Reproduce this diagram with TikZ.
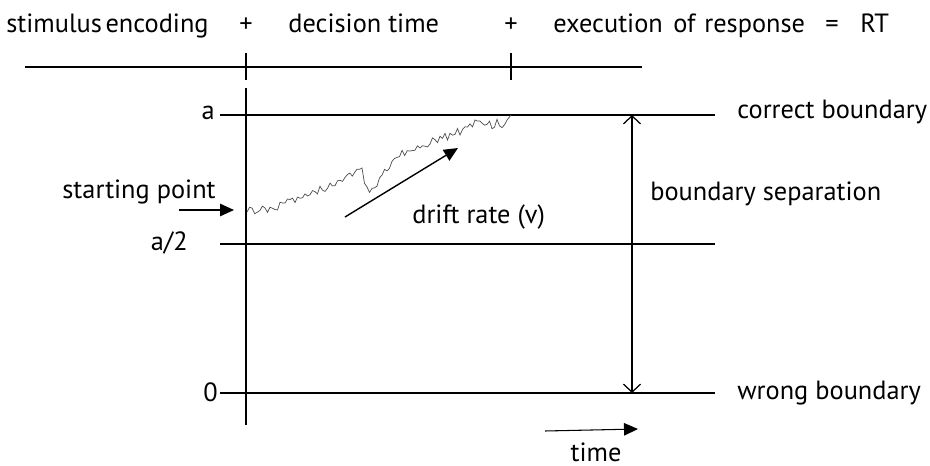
\documentclass[tikz,border=0pt]{standalone}
\usepackage{fontspec}
\setmainfont{PT Sans}
\usetikzlibrary{arrows.meta, positioning}

\begin{document}
\begin{tikzpicture}[
  x=0.02cm, y=-0.02cm,
  font=\fontsize{15}{17}\selectfont,
  lbl/.style={inner sep=0pt},
  rule/.style={line width=0.8pt},
  pointer/.style={-{Triangle[length=2.8mm, width=2.5mm]}, line width=0.8pt},
  span/.style={{Straight Barb[length=1.6mm, width=3.4mm]}-{Straight Barb[length=1.6mm, width=3.4mm]}, line width=0.7pt},
  walk/.style={black!70, line width=0.4pt}
]
\useasboundingbox (0,0) rectangle (930,466);

% components of the response time
\node[lbl, anchor=base west] (enc) at (6,33) {stimulus\hspace{2pt}encoding};
\node[lbl, anchor=base] (plusA) at (246,33) {+};
\node[lbl, anchor=base west] (dec) at (288,33) {decision time};
\node[lbl, anchor=base] (plusB) at (511,33) {+};
\node[lbl, anchor=base west] (exe) at (553,33) {execution\hspace{6pt}of\hspace{5pt}response};
\node[lbl, anchor=base] (eq) at (832,33) {=};
\node[lbl, anchor=base west] (rt) at (860,33) {RT};

\coordinate (tlL) at (25,67);
\coordinate (tlR) at (642,67);
\draw[rule] (tlL) -- (tlR);
\draw[rule] (246,53) -- (246,80);
\draw[rule] (511,53) -- (511,80);

% boundaries
\coordinate (aL) at (220,115);   \coordinate (aR) at (715,115);
\coordinate (hL) at (220,244);   \coordinate (hR) at (715,244);
\coordinate (zL) at (220,393);   \coordinate (zR) at (715,393);
\coordinate (axT) at (246,88);   \coordinate (axB) at (246,425);
\draw[rule] (aL) -- (aR);
\draw[rule] (hL) -- (hR);
\draw[rule] (zL) -- (zR);
\draw[rule] (axT) -- (axB);

\node[lbl, anchor=east] (la) at (215,113) {a};
\node[lbl, anchor=east] (lhalf) at (188,243) {a/2};
\node[lbl, anchor=east] (lzero) at (218,392) {0};

\node[lbl, anchor=west] (corr) at (737,112) {correct boundary};
\node[lbl, anchor=west] (wrong) at (737,393) {wrong boundary};

% boundary separation
\coordinate (sepT) at (632,115);
\coordinate (sepB) at (632,393);
\draw[span] (sepT) -- (sepB);
\node[lbl, anchor=west] (sep) at (650,194) {boundary separation};

% starting point
\coordinate (w0) at (247,212);
\coordinate (spTail) at (179,210);
\coordinate (spHead) at (234,210);
\node[lbl, anchor=east] (sp) at (216,192) {starting point};
\draw[pointer] (spTail) -- (spHead);

% diffusion path
\pgfmathsetseed{31}
\draw[walk] (w0)
  \foreach \xb/\yb/\n [remember=\xb as \xa (initially 247), remember=\yb as \ya (initially 212)] in
    {265/209/7, 285/203/8, 305/194/8, 325/188/8, 345/181/8, 362/167/7, 367/191/2,
     382/177/6, 397/156/6, 420/146/9, 440/138/8, 460/131/8, 475/123/6, 492/125/7, 507/122/6}
  { \foreach \k in {1,...,\n} { -- ({\xa+(\xb-\xa)*\k/\n}, {\ya+(\yb-\ya)*\k/\n+4.8*rand}) } }
  -- (511,115);

% drift rate
\coordinate (drT) at (345,217);
\coordinate (drH) at (458,148);
\draw[pointer] (drT) -- (drH);
\node[lbl, anchor=west] (drift) at (412,217) {drift rate (v)};

% time
\coordinate (tmT) at (545,431);
\coordinate (tmH) at (638,429);
\draw[pointer, line width=0.6pt] (tmT) -- (tmH);
\node[lbl, anchor=base] (time) at (596,461) {time};
\end{tikzpicture}
\end{document}
